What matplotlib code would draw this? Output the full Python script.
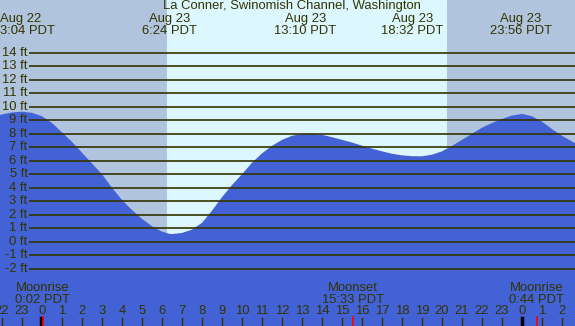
import matplotlib.pyplot as plt
import numpy as np

# tide height (ft), hours from midnight Aug 23 (PDT)
hours = [-2.1, -2, -1.5, -1, -0.5, 0, 0.5, 1, 1.5, 2, 2.5, 3, 3.5, 4, 4.5, 5, 5.5,
         6, 6.4, 6.5, 7, 7.5, 8, 8.5, 9, 9.5, 10, 10.5, 11, 11.5, 12, 12.5, 13,
         13.5, 14, 14.5, 15, 15.5, 16, 16.5, 17, 17.5, 18, 18.5, 19, 19.5, 20,
         20.5, 21, 21.5, 22, 22.5, 23, 23.5, 24, 24.5, 25, 25.5, 26, 26.65]
heights = [9.4, 9.43, 9.58, 9.64, 9.55, 9.3, 8.8, 8.1, 7.4, 6.6, 5.8, 5.0, 4.0, 3.1,
           2.35, 1.7, 1.15, 0.75, 0.58, 0.57, 0.65, 0.9, 1.4, 2.3, 3.3, 4.2, 5.0,
           5.85, 6.55, 7.1, 7.55, 7.85, 7.98, 8.0, 7.92, 7.75, 7.55, 7.35, 7.12,
           6.9, 6.7, 6.52, 6.4, 6.34, 6.33, 6.45, 6.7, 7.1, 7.55, 8.0, 8.45, 8.8,
           9.1, 9.35, 9.47, 9.3, 8.9, 8.35, 7.85, 7.3]

sunrise, sunset = 6.23, 20.23
ft_levels = list(range(-2, 15))

# tide extremes shown along the top
tide_days = ['Aug 22', 'Aug 23', 'Aug 23', 'Aug 23', 'Aug 23']
tide_times = ['3:04', '6:24', '13:10', '18:32', '23:56']
tide_offsets = [-24, 0, 0, 0, 0]

# moon events
moon_names = ['Moonrise', 'Moonset', 'Moonrise']
moon_times = ['0:02', '15:33', '0:44']
moon_offsets = [0, 0, 24]

hour_ticks = list(range(-2, 27))

title = 'La Conner, Swinomish Channel, Washington'

night_col = '#b0c4de'
day_col = '#ddf7ff'
water_col = '#4262d6'
ink = '#333300'
xmin, xmax = -2.1, 26.65
ymin, ymax = -6.24, 17.91
fs = 9.4


def to_hours(s, off):
    h, m = s.split(':')
    return int(h) + int(m) / 60 + off


plt.rcParams['font.family'] = ['Liberation Sans', 'DejaVu Sans']
fig = plt.figure(figsize=(5.75, 3.26), dpi=100)
ax = fig.add_axes([0, 0, 1, 1])
ax.set_xlim(xmin, xmax)
ax.set_ylim(ymin, ymax)
ax.axis('off')

ax.axvspan(xmin, sunrise, color=night_col, lw=0)
ax.axvspan(sunrise, sunset, color=day_col, lw=0)
ax.axvspan(sunset, xmax, color=night_col, lw=0)

ax.fill_between(hours, heights, ymin, color=water_col, lw=0, zorder=2)

ax.hlines(ft_levels, -0.65, xmax, color=ink, lw=1.2, zorder=3)
for f in ft_levels:
    ax.text(-0.72, f, f'{f} ft', ha='right', va='center', fontsize=fs, color=ink, zorder=4)

ax.text(12.5, 17.45, title, ha='center', va='center', fontsize=fs, color=ink)
for d, t, off in zip(tide_days, tide_times, tide_offsets):
    x = to_hours(t, off)
    if x < xmin:
        x, ha = xmin + 0.02, 'left'
    else:
        ha = 'center'
    ax.text(x, 16.5, d, ha=ha, va='center', fontsize=fs, color=ink)
    ax.text(x, 15.62, t + ' PDT', ha=ha, va='center', fontsize=fs, color=ink)

# hour ticks along the bottom
for h in hour_ticks:
    ax.text(h, -5.1, str(h % 24), ha='center', va='center', fontsize=fs, color=ink)
    ax.plot([h, h], [-5.65, ymin], color=ink, lw=1)

for name, t, off in zip(moon_names, moon_times, moon_offsets):
    x = to_hours(t, off)
    ax.text(x, -3.42, name, ha='center', va='center', fontsize=fs, color=ink)
    ax.text(x, -4.32, t + ' PDT', ha='center', va='center', fontsize=fs, color=ink)
    ax.plot([x, x], [-5.6, ymin], color='red', lw=1.2, zorder=5)
ax.plot([-0.05, -0.05], [-5.65, ymin], color='black', lw=2.5, zorder=4)
ax.plot([24.0, 24.0], [-5.65, ymin], color='black', lw=2.5, zorder=4)

fig.savefig('out.png', dpi=100)
